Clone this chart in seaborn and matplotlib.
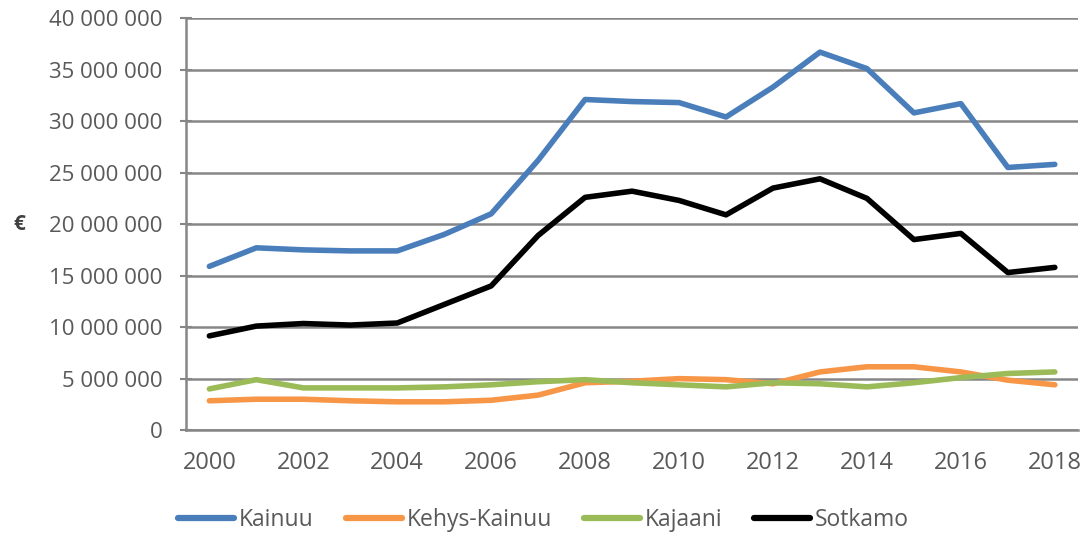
import numpy as np
import pandas as pd
import seaborn as sns
import matplotlib.pyplot as plt

years = list(range(2000, 2019))
kainuu = [15.9, 17.7, 17.5, 17.4, 17.4, 19.0, 21.0, 26.2, 32.1, 31.9,
          31.8, 30.4, 33.3, 36.7, 35.1, 30.8, 31.7, 25.5, 25.8]
kehys_kainuu = [2.85, 3.0, 3.0, 2.85, 2.75, 2.75, 2.9, 3.4, 4.6, 4.75,
                5.0, 4.9, 4.5, 5.65, 6.15, 6.15, 5.65, 4.85, 4.4]
kajaani = [4.0, 4.9, 4.1, 4.1, 4.1, 4.2, 4.4, 4.7, 4.9, 4.6,
           4.4, 4.2, 4.6, 4.5, 4.2, 4.6, 5.1, 5.5, 5.65]
sotkamo = [9.15, 10.1, 10.35, 10.2, 10.4, 12.2, 14.0, 18.9, 22.6, 23.2,
           22.3, 20.9, 23.5, 24.4, 22.5, 18.5, 19.1, 15.3, 15.8]

series_names = ["Kainuu", "Kehys-Kainuu", "Kajaani", "Sotkamo"]
colors = ["#4A7EBB", "#F79646", "#9BBB59", "#000000"]
y_ticks = list(range(0, 40000001, 5000000))
x_labels = list(range(2000, 2019, 2))

# Long-form data for seaborn
df = pd.DataFrame({
    "Year": years * 4,
    "Value": [v * 1e6 for v in kainuu + kehys_kainuu + kajaani + sotkamo],
    "Series": sum([[n] * len(years) for n in series_names], []),
})

sns.set_style("white")
plt.rcParams['font.family'] = ['Open Sans', 'DejaVu Sans']

fig = plt.figure(figsize=(10.87, 5.33), dpi=100)
ax = fig.add_axes([0.171, 0.193, 0.821, 0.773])

sns.lineplot(data=df, x="Year", y="Value", hue="Series", hue_order=series_names,
             palette=colors, linewidth=4.0, ax=ax, legend=True,
             solid_capstyle="round", solid_joinstyle="round")

gray = "#868686"
text_gray = "#595959"
ax.set_ylim(0, 40000000)
ax.set_xlim(1999.5, 2018.5)
ax.set_yticks(y_ticks)
ax.set_yticklabels([f"{t:,}".replace(",", " ") for t in y_ticks],
                   color=text_gray, fontsize=16)
ax.yaxis.grid(True, color=gray, linewidth=1.8)
ax.set_axisbelow(True)

# category boundaries get the tick marks, labels every second year
ax.set_xticks(x_labels)
ax.set_xticklabels([str(y) for y in x_labels], color=text_gray, fontsize=17)
ax.set_xticks(np.arange(1999.5, 2019, 1), minor=True)
ax.tick_params(axis="x", which="major", length=0, pad=15)
ax.tick_params(axis="x", which="minor", length=6, width=1.5, color=gray)
ax.tick_params(axis="y", direction="inout", length=8, width=1.5, color=gray,
               pad=13, left=True)

for side in ["top", "right"]:
    ax.spines[side].set_visible(False)
for side in ["left", "bottom"]:
    ax.spines[side].set_color(gray)
    ax.spines[side].set_linewidth(1.8)

ax.set_xlabel("")
ax.set_ylabel("")
ax.text(-0.187, 0.5, "€", transform=ax.transAxes, ha="center", va="center",
        fontsize=15, fontweight="bold", color="#404040")

handles, labels = ax.get_legend_handles_labels()
ax.legend_.remove()
leg = fig.legend(handles, labels, loc="center", bbox_to_anchor=(0.5, 0.024),
                 ncol=4, frameon=False, fontsize=16.5, handlelength=2.45,
                 handletextpad=0.2, columnspacing=1.4, labelcolor=text_gray)
for line in leg.get_lines():
    line.set_linewidth(4.5)
    line.set_solid_capstyle("round")

fig.savefig("out.png", dpi=100)
